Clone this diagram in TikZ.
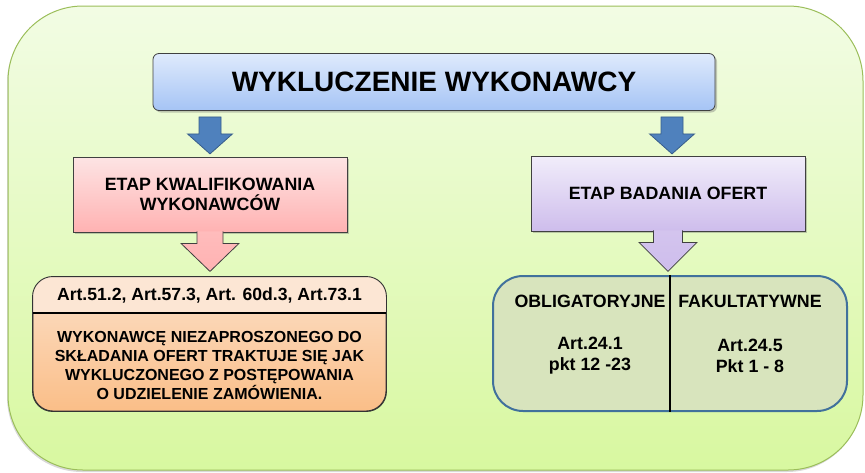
\documentclass[tikz,border=0pt]{standalone}
\usepackage{fontspec}
\setmainfont{Liberation Sans}
\usetikzlibrary{shadows}
\definecolor{bgTop}{RGB}{242,252,228}
\definecolor{bgBot}{RGB}{216,248,160}
\definecolor{bgLine}{RGB}{155,190,90}
\definecolor{blueTop}{RGB}{222,234,252}
\definecolor{blueBot}{RGB}{166,196,245}
\definecolor{pinkTop}{RGB}{253,228,228}
\definecolor{pinkBot}{RGB}{255,178,178}
\definecolor{purpTop}{RGB}{241,237,250}
\definecolor{purpBot}{RGB}{206,189,236}
\definecolor{orHead}{RGB}{252,230,212}
\definecolor{orTop}{RGB}{252,224,200}
\definecolor{orBot}{RGB}{250,190,136}
\definecolor{oliveFill}{RGB}{216,228,189}
\definecolor{oliveLine}{RGB}{65,113,156}
\definecolor{arrowBlue}{RGB}{79,129,189}
\definecolor{arrowLine}{RGB}{56,93,138}

\begin{document}
\begin{tikzpicture}[%
    x=1pt, y=-1pt,
    every node/.style={
        font=\bfseries,
        align=center,
        inner sep=0pt,
    },
    softshadow/.style={
        drop shadow={shadow xshift=2pt, shadow yshift=-2pt,
                     opacity=.35, fill=black!60},
    },
    titlebox/.style={
        draw=black!75, line width=.8pt, rounded corners=6pt,
        top color=blueTop, bottom color=blueBot, softshadow,
        minimum width=562pt, minimum height=57pt,
        font=\fontsize{28}{32}\selectfont\bfseries,
    },
    stagebox/.style={
        draw=black!75, line width=.8pt, softshadow,
        minimum width=274pt, minimum height=75pt,
        font=\fontsize{17.8}{20.5}\selectfont\bfseries,
    },
    bluearrow/.style={fill=arrowBlue, draw=arrowLine, line width=.8pt},
    fatarrow/.style={draw=black!75, line width=.8pt},
]
\path[use as bounding box] (0,0) rectangle (865,472);

% background panel
\draw[bgLine, line width=1pt, top color=bgTop, bottom color=bgBot,
      rounded corners=75pt,
      drop shadow={shadow xshift=-1pt, shadow yshift=-2pt, opacity=.3, fill=black!50}]
    (8,6) rectangle (863,470);

% place boxes
\node[titlebox] (title) at (434,82) {WYKLUCZENIE WYKONAWCY};
\node[stagebox, top color=pinkTop, bottom color=pinkBot] (kwal) at (210,194.5)
    {ETAP KWALIFIKOWANIA\\WYKONAWCÓW};
\node[stagebox, top color=purpTop, bottom color=purpBot] (badanie) at (668,193.5)
    {ETAP BADANIA OFERT};

% blue arrows under the title
\draw[bluearrow] (title.south -| kwal.north) ++(-11,6) -- ++(0,17) -- ++(-11.5,0)
    -- ++(22.5,20) -- ++(22.5,-20) -- ++(-11.5,0) -- ++(0,-17) -- cycle;
\draw[bluearrow] (title.south -| badanie.north) ++(-7,6) -- ++(0,17) -- ++(-11.5,0)
    -- ++(22.5,20) -- ++(22.5,-20) -- ++(-11.5,0) -- ++(0,-17) -- cycle;

% fat arrows out of the stage boxes
\draw[fatarrow, top color=pinkBot!80!pinkTop, bottom color=pinkBot]
    (kwal.south) ++(-13,-1) -- ++(0,12) -- ++(-16,0) -- ++(29,28)
    -- ++(29,-28) -- ++(-16,0) -- ++(0,-12);
\draw[fatarrow, top color=purpBot!85!purpTop, bottom color=purpBot]
    (badanie.south) ++(-14.5,-1) -- ++(0,12) -- ++(-14.5,0) -- ++(29,29)
    -- ++(29,-29) -- ++(-14.5,0) -- ++(0,-12);

% article box (left)
\node[draw=black!80, line width=.9pt, rounded corners=20pt,
      top color=orTop, bottom color=orBot,
      minimum width=353pt, minimum height=134pt] (art) at (209.5,344) {};
\coordinate (split) at (0,313);
\begin{scope}
    \clip[rounded corners=20pt] (art.north west) rectangle (art.south east);
    \fill[orHead] (art.north west) rectangle (art.east |- split);
\end{scope}
\draw[black!80, line width=.9pt, rounded corners=20pt]
    (art.north west) rectangle (art.south east);
\draw[line width=1.6pt] (art.west |- split) -- (art.east |- split);
\node[font=\fontsize{17.6}{20}\selectfont\bfseries] (arthead) at (209.5,295)
    {Art.51.2, Art.57.3, Art. 60d.3, Art.73.1};
\node[font=\fontsize{16}{19}\selectfont\bfseries] (artbody) at (209.5,365)
    {WYKONAWCĘ NIEZAPROSZONEGO DO\\SKŁADANIA OFERT TRAKTUJE SIĘ JAK\\
     WYKLUCZONEGO Z POSTĘPOWANIA\\O UDZIELENIE ZAMÓWIENIA.};

% offer box (right)
\node[draw=oliveLine, line width=2pt, rounded corners=30pt, fill=oliveFill,
      minimum width=354pt, minimum height=135pt] (oferta) at (670,343.5) {};
\draw[line width=2pt] (oferta.north) -- (oferta.south);
\node[font=\fontsize{17.8}{21}\selectfont\bfseries] (obl) at (590,301) {OBLIGATORYJNE};
\node[font=\fontsize{17.8}{21}\selectfont\bfseries] (fak) at (750,301) {FAKULTATYWNE};
\node[font=\fontsize{17.8}{21}\selectfont\bfseries] (oblart) at (590,355.5)
    {Art.24.1\\pkt 12 -23};
\node[font=\fontsize{17.8}{21}\selectfont\bfseries] (fakart) at (750,355.5)
    {Art.24.5\\Pkt 1 - 8};

\end{tikzpicture}
\end{document}
